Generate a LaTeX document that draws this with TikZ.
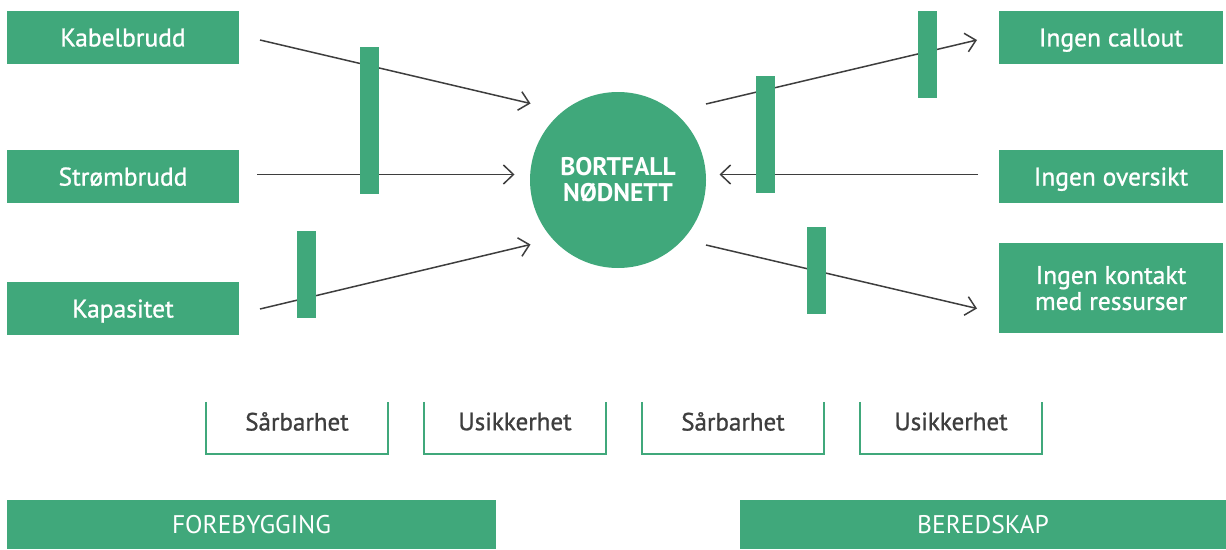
\documentclass[tikz,border=0pt]{standalone}
\usepackage{fontspec}
\setmainfont{PT Sans}
\newfontfamily\lblfont{PT Sans}[FakeBold=1]
\usetikzlibrary{arrows.meta}
\definecolor{leaf}{RGB}{64,168,123}
\definecolor{ink}{RGB}{62,62,62}
\begin{document}
\begin{tikzpicture}[x=1pt,y=-1pt,
  box/.style={fill=leaf, text=white, inner sep=0pt, align=center, text depth=0pt,
    font=\lblfont\fontsize{25.5}{28}\selectfont},
  hubnode/.style={circle, fill=leaf, text=white, inner sep=0pt,
    minimum size=176pt, align=center, font=\bfseries\fontsize{25.5}{27}\selectfont},
  gate/.style={fill=leaf, inner sep=0pt, minimum width=19pt},
  frame/.style={inner sep=0pt, minimum width=182pt, minimum height=52pt},
  rim/.style={draw=leaf, line width=1.8pt},
  tag/.style={text=ink, font=\lblfont\fontsize{25}{28}\selectfont},
  band/.style={fill=leaf, text=white, inner sep=0pt, minimum height=49pt,
    font=\fontsize{25.5}{28}\selectfont},
  flow/.style={draw=ink, line width=1.5pt,
    -{Straight Barb[length=10pt,width=19pt,line width=1.5pt]}}
]
\useasboundingbox (0,0) rectangle (1226,549);

% causes
\node[box, minimum width=232pt, minimum height=53pt] (kabel) at (123,37.5) {Kabelbrudd};
\node[box, minimum width=232pt, minimum height=53pt] (strom) at (123,176.5) {Strømbrudd};
\node[box, minimum width=232pt, minimum height=53pt] (kapa)  at (123,308.5) {Kapasitet};

% central event
\node[hubnode] (hub) at (618,180) {BORTFALL\\[-1pt]NØDNETT};

% consequences
\node[box, minimum width=224pt, minimum height=53pt] (callout)  at (1111,37.5) {Ingen callout};
\node[box, minimum width=224pt, minimum height=53pt] (oversikt) at (1111,176.5) {Ingen oversikt};
\node[box, minimum width=224pt, minimum height=90pt] (kontakt)  at (1111,288) {Ingen kontakt\\[-2pt]med ressurser};

% connector ends
\coordinate (kabel-o) at (260,40);
\coordinate (kabel-i) at (530.5,103.5);
\coordinate (strom-o) at (257,174.5);
\coordinate (strom-i) at (514.5,174.5);
\coordinate (kapa-o)  at (260,309);
\coordinate (kapa-i)  at (530.5,244.5);
\coordinate (callout-o) at (706,104);
\coordinate (callout-i) at (977,40);
\coordinate (oversikt-o) at (978,174.5);
\coordinate (oversikt-i) at (719.5,174.5);
\coordinate (kontakt-o) at (706,245);
\coordinate (kontakt-i) at (977,308.5);

\draw[flow] (kabel-o) -- (kabel-i);
\draw[flow] (strom-o) -- (strom-i);
\draw[flow] (kapa-o) -- (kapa-i);
\draw[flow] (callout-o) -- (callout-i);
\draw[flow] (oversikt-o) -- (oversikt-i);
\draw[flow] (kontakt-o) -- (kontakt-i);

% barriers
\node[gate, minimum height=147pt] (g1) at (369.5,120) {};
\node[gate, minimum height=87pt]  (g2) at (306.5,274.5) {};
\node[gate, minimum height=117pt] (g3) at (765,134.5) {};
\node[gate, minimum height=87pt]  (g4) at (927,54.5) {};
\node[gate, minimum height=87pt]  (g5) at (816,270.5) {};

% barrier categories
\foreach \n/\x/\t in {f1/297/Sårbarhet, f2/515/Usikkerhet, f3/733/Sårbarhet, f4/951/Usikkerhet}{
  \node[frame] (\n) at (\x,428) {};
  \draw[rim] (\n.north west) -- (\n.south west) -- (\n.south east) -- (\n.north east);
  \node[tag] (\n-t) at (\x,421.5) {\t};
}

% phases
\node[band, minimum width=489pt] (fore)  at (251.5,524.5) {FOREBYGGING};
\node[band, minimum width=486pt] (bered) at (983,524.5) {BEREDSKAP};
\end{tikzpicture}
\end{document}
